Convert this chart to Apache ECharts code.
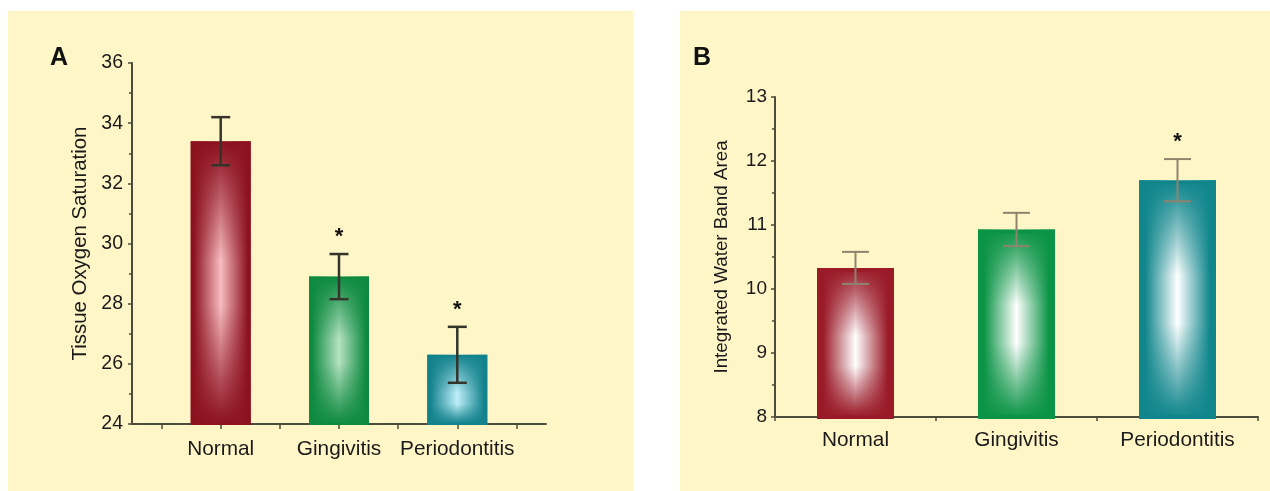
<!DOCTYPE html>
<html><head><meta charset="utf-8">
<script src="https://cdn.jsdelivr.net/npm/echarts@6/dist/echarts.min.js"></script>
<style>html,body{margin:0;padding:0;background:#fff;}#c{width:1270px;height:491px;}</style>
</head><body><div id="c"></div>
<script>
// ---------- data ----------
const categories = ['Normal', 'Gingivitis', 'Periodontitis'];
// Panel A: tissue oxygen saturation
const oxygenMean = [33.4, 28.9, 26.3];
const oxygenErr = [0.8, 0.75, 0.93];
const oxygenSig = [false, true, true];
const oxygenTicks = [24, 26, 28, 30, 32, 34, 36];
// Panel B: integrated water band area
const waterMean = [10.33, 10.93, 11.7];
const waterErr = [0.25, 0.26, 0.33];
const waterSig = [false, false, true];
const waterTicks = [8, 9, 10, 11, 12, 13];

// ---------- styles ----------
const FONT = 'Liberation Sans';
const colA = [
  {dark: '#8c1220', light: '#f7bcc0'},
  {dark: '#0e8a40', light: '#b6e2c2'},
  {dark: '#12828c', light: '#bdeef8'}
];
const colB = [
  {dark: '#9a1a28', light: '#ffffff'},
  {dark: '#0c9446', light: '#ffffff'},
  {dark: '#10868c', light: '#ffffff'}
];
function rgba(hex, a) {
  const n = parseInt(hex.slice(1), 16);
  return 'rgba(' + (n >> 16 & 255) + ',' + (n >> 8 & 255) + ',' + (n & 255) + ',' + a + ')';
}
function hGrad(c, e) {
  return new echarts.graphic.LinearGradient(0, 0, 1, 0, [
    {offset: 0, color: c.dark}, {offset: e, color: c.dark},
    {offset: 0.5, color: c.light},
    {offset: 1 - e, color: c.dark}, {offset: 1, color: c.dark}]);
}
function vGrad(c, e, mid, w) {
  return new echarts.graphic.LinearGradient(0, 0, 0, 1, [
    {offset: 0, color: rgba(c.dark, 1)}, {offset: e, color: rgba(c.dark, 0.9)},
    {offset: mid - w, color: rgba(c.dark, 0)}, {offset: mid + w, color: rgba(c.dark, 0)},
    {offset: 1 - e, color: rgba(c.dark, 0.9)}, {offset: 1, color: rgba(c.dark, 1)}]);
}
function errRender(capW, lw, color, starGap) {
  return function (params, api) {
    const x = api.value(0), m = api.value(1), e = api.value(2), sig = api.value(3);
    const top = api.coord([x, m + e]), bot = api.coord([x, m - e]);
    const st = {stroke: color, lineWidth: lw};
    const ch = [
      {type: 'line', shape: {x1: top[0], y1: top[1], x2: bot[0], y2: bot[1]}, style: st},
      {type: 'line', shape: {x1: top[0] - capW / 2, y1: top[1], x2: top[0] + capW / 2, y2: top[1]}, style: st},
      {type: 'line', shape: {x1: bot[0] - capW / 2, y1: bot[1], x2: bot[0] + capW / 2, y2: bot[1]}, style: st}
    ];
    if (sig) ch.push({type: 'text', x: top[0], y: top[1] - starGap,
      style: {text: '*', fill: '#111', font: 'bold 22px ' + FONT, align: 'center', verticalAlign: 'middle'}});
    return {type: 'group', children: ch};
  };
}

// axis A uses interleaved slots so ticks fall at bars and between them
const catsA = [''];
categories.forEach(c => { catsA.push(c); catsA.push(''); });

const axisCol = '#4c4c3c';
const labelCol = '#1a1a1a';

const option = {
  animation: false,
  graphic: [
    {type: 'rect', shape: {x: 8, y: 11, width: 625, height: 480}, style: {fill: '#fff6c8'}, z: -10, silent: true},
    {type: 'rect', shape: {x: 680, y: 11, width: 590, height: 480}, style: {fill: '#fff6c8'}, z: -10, silent: true},
    {type: 'text', x: 50, y: 46, z: 10, style: {text: 'A', font: 'bold 25px ' + FONT, fill: '#111'}},
    {type: 'text', x: 693, y: 46, z: 10, style: {text: 'B', font: 'bold 25px ' + FONT, fill: '#111'}}
  ],
  grid: [
    {left: 132, top: 63, width: 414, height: 361},
    {left: 775, top: 97, width: 483, height: 320}
  ],
  xAxis: [
    {type: 'category', gridIndex: 0, data: catsA, boundaryGap: true,
      axisLine: {lineStyle: {color: axisCol, width: 2}},
      axisTick: {show: true, interval: 0, alignWithLabel: true, length: 5, lineStyle: {color: axisCol, width: 1.5}},
      axisLabel: {interval: 0, margin: 15, fontSize: 20.8, color: labelCol, fontFamily: FONT},
      splitLine: {show: false}},
    {type: 'category', gridIndex: 1, data: categories, boundaryGap: true,
      axisLine: {lineStyle: {color: axisCol, width: 2}},
      axisTick: {show: true, interval: 0, length: 4, lineStyle: {color: axisCol, width: 1.5}},
      axisLabel: {interval: 0, margin: 13, fontSize: 20.8, color: labelCol, fontFamily: FONT},
      splitLine: {show: false}}
  ],
  yAxis: [
    {type: 'value', gridIndex: 0, min: oxygenTicks[0], max: oxygenTicks[oxygenTicks.length - 1],
      interval: oxygenTicks[1] - oxygenTicks[0],
      name: 'Tissue Oxygen Saturation', nameLocation: 'middle', nameGap: 42,
      nameTextStyle: {fontSize: 20.4, color: labelCol, fontFamily: FONT},
      axisLine: {show: true, lineStyle: {color: axisCol, width: 2}},
      axisTick: {show: true, length: 4, lineStyle: {color: axisCol, width: 1.5}},
      minorTick: {show: true, splitNumber: 2, length: 3, lineStyle: {color: axisCol, width: 1.5}},
      axisLabel: {margin: 9, fontSize: 19.5, color: labelCol, fontFamily: FONT},
      splitLine: {show: false}},
    {type: 'value', gridIndex: 1, min: waterTicks[0], max: waterTicks[waterTicks.length - 1],
      interval: waterTicks[1] - waterTicks[0],
      name: 'Integrated Water Band Area', nameLocation: 'middle', nameGap: 44,
      nameTextStyle: {fontSize: 18.8, color: labelCol, fontFamily: FONT},
      axisLine: {show: true, lineStyle: {color: axisCol, width: 2}},
      axisTick: {show: true, length: 4, lineStyle: {color: axisCol, width: 1.5}},
      minorTick: {show: true, splitNumber: 2, length: 3, lineStyle: {color: axisCol, width: 1.5}},
      axisLabel: {margin: 8, fontSize: 19, color: labelCol, fontFamily: FONT},
      splitLine: {show: false}}
  ],
  series: [
    {type: 'bar', xAxisIndex: 0, yAxisIndex: 0, barWidth: 60, z: 2,
      data: categories.map((c, i) => ({value: [2 * i + 1, oxygenMean[i]], itemStyle: {color: hGrad(colA[i], 0.05)}}))},
    {type: 'bar', xAxisIndex: 0, yAxisIndex: 0, barWidth: 60, barGap: '-100%', z: 3,
      data: categories.map((c, i) => ({value: [2 * i + 1, oxygenMean[i]],
        itemStyle: {color: vGrad(colA[i], 0.05, i === 2 ? 0.62 : 0.5, 0.08), borderColor: colA[i].dark, borderWidth: 2}}))},
    {type: 'custom', xAxisIndex: 0, yAxisIndex: 0, z: 5,
      renderItem: errRender(19, 2.5, '#34342a', 17),
      encode: {x: 0, y: 1},
      data: categories.map((c, i) => [2 * i + 1, oxygenMean[i], oxygenErr[i], oxygenSig[i] ? 1 : 0])},

    {type: 'bar', xAxisIndex: 1, yAxisIndex: 1, barWidth: 77, z: 2,
      data: categories.map((c, i) => ({value: [i, waterMean[i]], itemStyle: {color: hGrad(colB[i], 0.08)}}))},
    {type: 'bar', xAxisIndex: 1, yAxisIndex: 1, barWidth: 77, barGap: '-100%', z: 3,
      data: categories.map((c, i) => ({value: [i, waterMean[i]],
        itemStyle: {color: vGrad(colB[i], 0.05, i === 0 ? 0.55 : 0.5, 0.1), borderColor: colB[i].dark, borderWidth: 4}}))},
    {type: 'custom', xAxisIndex: 1, yAxisIndex: 1, z: 5,
      renderItem: errRender(27, 2, '#8e846e', 17),
      encode: {x: 0, y: 1},
      data: categories.map((c, i) => [i, waterMean[i], waterErr[i], waterSig[i] ? 1 : 0])}
  ]
};
const chart = echarts.init(document.getElementById('c'), null, {renderer: 'canvas'});
chart.setOption(option);
</script>
</body></html>
